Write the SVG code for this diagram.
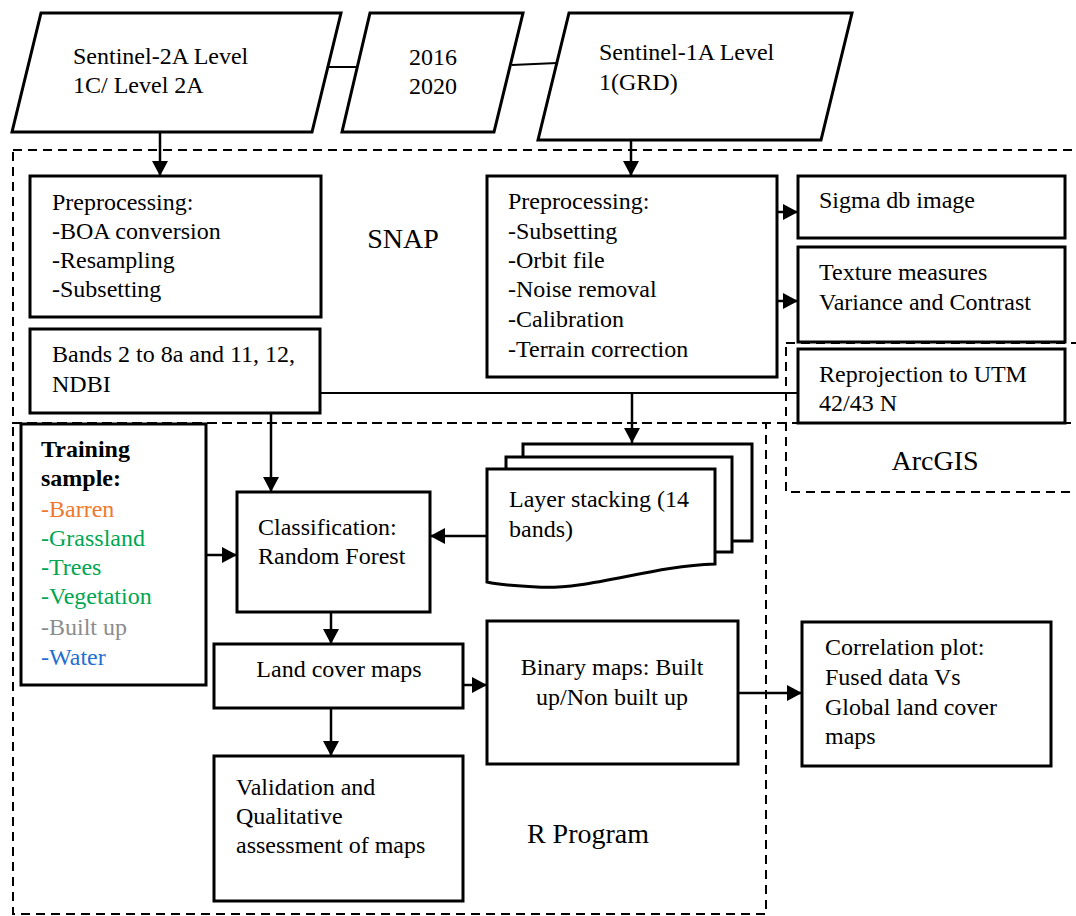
<svg xmlns="http://www.w3.org/2000/svg" width="1076" height="916" viewBox="0 0 1076 916">
<defs>
<style>
.t{font-family:"Liberation Serif","Times New Roman",serif;font-size:24px;fill:#000}
.big{font-size:28px}
.b{font-weight:bold}
.box{fill:#fff;stroke:#000;stroke-width:3}
.dash{fill:none;stroke:#000;stroke-width:2;stroke-dasharray:9,6}
.ln{fill:none;stroke:#000;stroke-width:2.5}
.thin{fill:none;stroke:#000;stroke-width:2}
</style>
<marker id="ah" markerUnits="userSpaceOnUse" markerWidth="15" markerHeight="16" refX="15" refY="8" orient="auto">
<path d="M0,0 L15,8 L0,16 Z" fill="#000"/>
</marker>
</defs>
<rect width="1076" height="916" fill="#fff"/>

<g id="regions">
<rect class="dash" x="13" y="150" width="1075" height="273"/>
<rect class="dash" x="13" y="423" width="753" height="491"/>
<rect class="dash" x="786" y="343" width="300" height="149"/>
<text class="t big" x="403" y="248" text-anchor="middle">SNAP</text>
<text class="t big" x="935" y="470" text-anchor="middle">ArcGIS</text>
<text class="t big" x="588" y="843" text-anchor="middle">R Program</text>
</g>

<g id="connectors">
<line class="thin" x1="328" y1="67" x2="357" y2="67"/>
<line class="thin" x1="512" y1="65" x2="557" y2="63"/>
<line class="ln" x1="160" y1="132" x2="160" y2="176" marker-end="url(#ah)"/>
<line class="ln" x1="631" y1="140" x2="631" y2="176" marker-end="url(#ah)"/>
<line class="ln" x1="777" y1="212" x2="798" y2="212" marker-end="url(#ah)"/>
<line class="ln" x1="777" y1="301" x2="798" y2="301" marker-end="url(#ah)"/>
<line class="thin" x1="320" y1="393" x2="798" y2="393"/>
<line class="ln" x1="632" y1="393" x2="632" y2="443" marker-end="url(#ah)"/>
<line class="ln" x1="271" y1="413" x2="271" y2="492" marker-end="url(#ah)"/>
<line class="ln" x1="206" y1="555" x2="237" y2="555" marker-end="url(#ah)"/>
<line class="ln" x1="487" y1="536" x2="430" y2="536" marker-end="url(#ah)"/>
<line class="ln" x1="331" y1="612" x2="331" y2="644" marker-end="url(#ah)"/>
<line class="ln" x1="463" y1="685" x2="487" y2="685" marker-end="url(#ah)"/>
<line class="ln" x1="331" y1="708" x2="331" y2="756" marker-end="url(#ah)"/>
<line class="ln" x1="738" y1="693" x2="802" y2="693" marker-end="url(#ah)"/>
</g>

<g id="s2">
<polygon class="box" points="41,13 341,13 312,132 12,132"/>
<text class="t" x="73" y="64">Sentinel-2A Level</text>
<text class="t" x="73" y="93">1C/ Level 2A</text>
</g>
<g id="years">
<polygon class="box" points="370,13 523,13 494,132 342,132"/>
<text class="t" x="433" y="65" text-anchor="middle">2016</text>
<text class="t" x="433" y="94" text-anchor="middle">2020</text>
</g>
<g id="s1">
<polygon class="box" points="569,13 852,13 821,140 538,140"/>
<text class="t" x="599" y="60">Sentinel-1A Level</text>
<text class="t" x="599" y="90">1(GRD)</text>
</g>

<g id="pre2">
<rect class="box" x="30" y="176" width="291" height="141"/>
<text class="t" x="52" y="210">Preprocessing:</text>
<text class="t" x="52" y="239">-BOA conversion</text>
<text class="t" x="52" y="268">-Resampling</text>
<text class="t" x="52" y="297">-Subsetting</text>
</g>
<g id="bands">
<rect class="box" x="30" y="329" width="290" height="84"/>
<text class="t" x="52" y="362">Bands 2 to 8a and 11, 12,</text>
<text class="t" x="52" y="392">NDBI</text>
</g>
<g id="pre1">
<rect class="box" x="487" y="176" width="290" height="201"/>
<text class="t" x="508" y="209">Preprocessing:</text>
<text class="t" x="508" y="239">-Subsetting</text>
<text class="t" x="508" y="268">-Orbit file</text>
<text class="t" x="508" y="297">-Noise removal</text>
<text class="t" x="508" y="327">-Calibration</text>
<text class="t" x="508" y="357">-Terrain correction</text>
</g>
<g id="sigma">
<rect class="box" x="798" y="176" width="267" height="62"/>
<text class="t" x="819" y="208">Sigma db image</text>
</g>
<g id="texture">
<rect class="box" x="798" y="247" width="267" height="95"/>
<text class="t" x="819" y="280">Texture measures</text>
<text class="t" x="819" y="310">Variance and Contrast</text>
</g>
<g id="reproj">
<rect class="box" x="798" y="349" width="267" height="74"/>
<text class="t" x="819" y="382">Reprojection to UTM</text>
<text class="t" x="819" y="411">42/43 N</text>
</g>

<g id="stack">
<path class="box" d="M523,457 V444 H752 V541 H732"/>
<path class="box" d="M506,469 V457 H732 V552 H715"/>
<path class="box" d="M487,469 H715 V564 C650,566 590,590 537,587 C515,586 500,585 487,582 Z"/>
<text class="t" x="509" y="507">Layer stacking (14</text>
<text class="t" x="509" y="537">bands)</text>
</g>

<g id="training">
<rect class="box" x="21" y="424" width="185" height="261"/>
<text class="t b" x="41" y="457">Training</text>
<text class="t b" x="41" y="486">sample:</text>
<text class="t" x="41" y="517" style="fill:#f2772e">-Barren</text>
<text class="t" x="41" y="546" style="fill:#00a651">-Grassland</text>
<text class="t" x="41" y="575" style="fill:#00a651">-Trees</text>
<text class="t" x="41" y="604" style="fill:#00a651">-Vegetation</text>
<text class="t" x="41" y="635" style="fill:#8c8c8c">-Built up</text>
<text class="t" x="41" y="665" style="fill:#1f6fd1">-Water</text>
</g>

<g id="classif">
<rect class="box" x="237" y="492" width="193" height="120"/>
<text class="t" x="258" y="535">Classification:</text>
<text class="t" x="258" y="564">Random Forest</text>
</g>
<g id="landcover">
<rect class="box" x="214" y="644" width="249" height="64"/>
<text class="t" x="339" y="677" text-anchor="middle">Land cover maps</text>
</g>
<g id="binary">
<rect class="box" x="487" y="621" width="251" height="143"/>
<text class="t" x="612" y="675" text-anchor="middle">Binary maps: Built</text>
<text class="t" x="612" y="705" text-anchor="middle">up/Non built up</text>
</g>
<g id="validation">
<rect class="box" x="214" y="756" width="249" height="145"/>
<text class="t" x="236" y="795">Validation and</text>
<text class="t" x="236" y="824">Qualitative</text>
<text class="t" x="236" y="853">assessment of maps</text>
</g>
<g id="correlation">
<rect class="box" x="802" y="622" width="249" height="144"/>
<text class="t" x="825" y="655">Correlation plot:</text>
<text class="t" x="825" y="685">Fused data Vs</text>
<text class="t" x="825" y="715">Global land cover</text>
<text class="t" x="825" y="744">maps</text>
</g>
</svg>
